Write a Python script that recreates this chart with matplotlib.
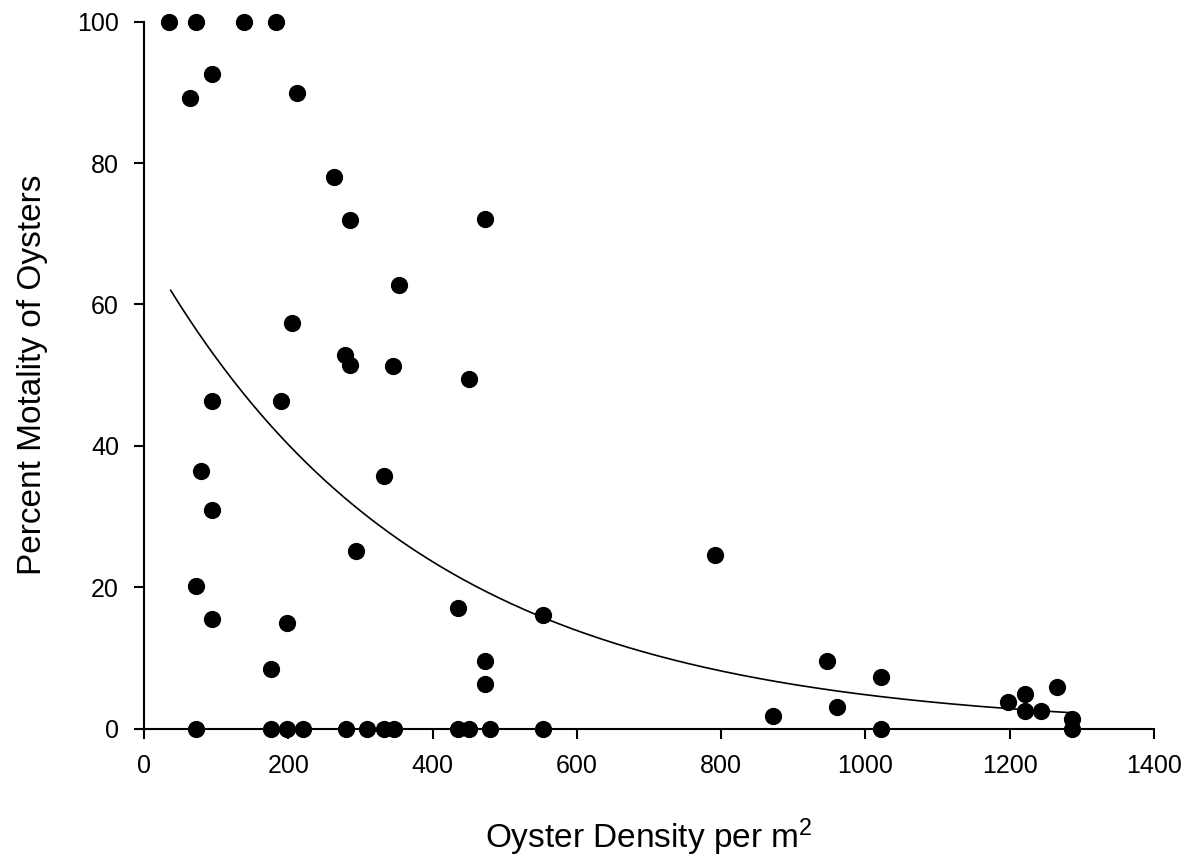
#import necessary libraries
import numpy as np
import matplotlib.pyplot as plt

plt.rcParams['font.family'] = ['Liberation Sans', 'DejaVu Sans']
plt.rcParams['mathtext.fontset'] = 'custom'
plt.rcParams['mathtext.rm'] = 'Liberation Sans'
plt.rcParams['mathtext.default'] = 'regular'

#data
density = [35, 72, 139, 183, 94, 64, 212, 264, 286, 472, 353, 205, 279, 286, 345, 450,
           94, 190, 79, 332, 94, 294, 72, 435, 553, 94, 198, 176, 472, 472,
           72, 176, 198, 220, 280, 309, 332, 347, 435, 450, 480, 553,
           791, 947, 1021, 872, 961, 1021, 1198, 1221, 1265, 1221, 1243, 1287, 1287]
mortality = [100, 100, 100, 100, 92.6, 89.2, 89.9, 78.0, 72.0, 72.1, 62.7, 57.3, 52.9, 51.4, 51.3, 49.4,
             46.3, 46.3, 36.5, 35.7, 30.9, 25.1, 20.1, 17.1, 16.1, 15.5, 14.9, 8.4, 9.5, 6.3,
             0, 0, 0, 0, 0, 0, 0, 0, 0, 0, 0, 0,
             24.5, 9.5, 7.3, 1.8, 3.1, 0, 3.8, 4.9, 5.9, 2.5, 2.5, 1.3, 0]

#exponential trendline y = a*exp(-b*x)
trend_a = 68.4
trend_b = 0.00266
trend_start = 37
trend_end = 1287

fig = plt.figure(figsize=(11.93, 8.56), dpi=100)
ax = fig.add_axes([0.1207, 0.1489, 0.8466, 0.8258])

ax.scatter(density, mortality, s=130, color="black", zorder=3, clip_on=False)
xs = np.linspace(trend_start, trend_end, 300)
ax.plot(xs, trend_a * np.exp(-trend_b * xs), color="black", linewidth=1.2)

ax.set_xlim(0, 1400)
ax.set_ylim(0, 100)
ax.set_xticks(range(0, 1401, 200))
ax.set_yticks(range(0, 101, 20))
ax.spines['top'].set_visible(False)
ax.spines['right'].set_visible(False)
ax.spines['left'].set_linewidth(1.5)
ax.spines['bottom'].set_linewidth(1.5)
ax.tick_params(direction="out", length=7, width=1.5, labelsize=18, pad=11)

ax.set_xlabel("Oyster Density per m$^2$", fontsize=24, labelpad=28)
ax.set_ylabel("Percent Motality of Oysters", fontsize=24, labelpad=21)

plt.savefig("out.png", dpi=100)
